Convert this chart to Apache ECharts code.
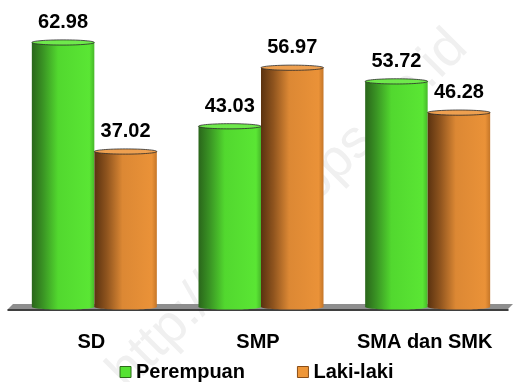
<!DOCTYPE html>
<html>
<head>
<meta charset="utf-8">
<script src="https://cdn.jsdelivr.net/npm/echarts@6/dist/echarts.min.js"></script>
<style>
  html, body { margin: 0; padding: 0; background: #fff; }
  #chart { width: 513px; height: 382px; }
</style>
</head>
<body>
<div id="chart"></div>
<script>
// Education level categories and share (%) by sex
const categories = ['SD', 'SMP', 'SMA dan SMK'];
const perempuan = [62.98, 43.03, 53.72];
const lakiLaki = [37.02, 56.97, 46.28];
const seriesNames = ['Perempuan', 'Laki-laki'];

const FONT = '"Liberation Sans", Arial, sans-serif';

// Shading for the cylinder bodies (dark left edge -> bright right side)
const palettes = {
  green: {
    flat: '#55e232',
    border: '#2c6a1a',
    body: [
      [0, '#2a661b'], [0.18, '#3a9424'], [0.42, '#52d82f'],
      [0.92, '#5ae634'], [1, '#47b82a']
    ],
    top: '#6fe94c'
  },
  orange: {
    flat: '#ee9638',
    border: '#8a4d16',
    body: [
      [0, '#5a3210'], [0.2, '#8f541e'], [0.45, '#dc8834'],
      [0.92, '#ea9238'], [1, '#c57628']
    ],
    top: '#eea050'
  }
};

function gradient(stops) {
  return new echarts.graphic.LinearGradient(0, 0, 1, 0,
    stops.map(s => ({ offset: s[0], color: s[1] })));
}

// Cylinder renderer: one bar per category, offset by series position
function cylinder(pal, slot) {
  return function (params, api) {
    const cat = api.value(0);
    const val = api.value(1);
    const top = api.coord([cat, val]);
    const base = api.coord([cat, 0]);
    const band = api.size([1, 0])[0];
    const w = band * 0.375;
    const x = top[0] - w + slot * w;
    const ry = 2.6;
    const fill = gradient(pal.body);
    return {
      type: 'group',
      children: [
        { type: 'rect', shape: { x: x, y: top[1], width: w, height: base[1] - top[1] },
          style: { fill: fill } },
        { type: 'ellipse', shape: { cx: x + w / 2, cy: base[1], rx: w / 2, ry: ry },
          style: { fill: fill } },
        { type: 'ellipse', shape: { cx: x + w / 2, cy: top[1], rx: w / 2, ry: ry },
          style: { fill: pal.top, stroke: '#2a2a2a', lineWidth: 0.8 } },
        { type: 'text', x: x + w / 2, y: top[1] - 20,
          style: { text: val.toFixed(2), fill: '#000', font: 'bold 20px ' + FONT,
                   align: 'center', verticalAlign: 'middle' } }
      ]
    };
  };
}

// Grey floor slab under the bars, skewed for a 3-D look
function floor(params, api) {
  const cs = params.coordSys;
  const baseY = cs.y + cs.height;
  const l = cs.x - 3, r = cs.x + cs.width - 3;
  return {
    type: 'group',
    children: [
      { type: 'polygon',
        shape: { points: [[l + 5, baseY - 3], [r + 5, baseY - 3], [r, baseY + 2], [l, baseY + 2]] },
        style: { fill: '#8e8e8e' } }
    ]
  };
}

const chart = echarts.init(document.getElementById('chart'), null, { renderer: 'canvas' });

chart.setOption({
  animation: false,
  backgroundColor: '#fff',
  graphic: [{
    type: 'text',
    x: 288, y: 210,
    rotation: Math.PI / 4,
    z: -10,
    style: {
      text: 'http://www.bps.go.id',
      font: '54px ' + FONT,
      fill: '#f0f0f0',
      align: 'center', verticalAlign: 'middle'
    }
  }],
  grid: [
    { left: 11, right: 2, top: 13, bottom: 75 },
    { left: 8, right: 5, top: 13, bottom: 72 }
  ],
  xAxis: [
    { type: 'category', gridIndex: 0, data: categories, show: false },
    { type: 'category', gridIndex: 1, data: categories,
      axisLine: { lineStyle: { color: '#000', width: 1.5 } },
      axisTick: { length: 7, lineStyle: { color: '#555' } },
      axisLabel: { interval: 0, margin: 22, color: '#000', fontFamily: FONT, fontWeight: 'bold', fontSize: 20 } }
  ],
  yAxis: [
    { type: 'value', gridIndex: 0, min: 0, max: 70, show: false },
    { type: 'value', gridIndex: 1, min: 0, max: 70, show: false }
  ],
  legend: {
    data: [
      { name: seriesNames[0], itemStyle: { color: palettes.green.flat, borderColor: palettes.green.border, borderWidth: 1 } },
      { name: seriesNames[1], itemStyle: { color: palettes.orange.flat, borderColor: palettes.orange.border, borderWidth: 1 } }
    ],
    left: 'center',
    top: 362,
    padding: 0,
    icon: 'rect',
    itemWidth: 11,
    itemHeight: 11,
    itemGap: 52,
    textStyle: { color: '#000', fontFamily: FONT, fontWeight: 'bold', fontSize: 20 }
  },
  series: [
    { type: 'custom', name: 'floor', xAxisIndex: 0, yAxisIndex: 0, z: 1,
      renderItem: floor, data: [[0, 0]], silent: true },
    { type: 'custom', name: seriesNames[0], xAxisIndex: 0, yAxisIndex: 0, z: 3,
      itemStyle: { color: palettes.green.flat },
      renderItem: cylinder(palettes.green, 0),
      encode: { x: 0, y: 1 },
      data: perempuan.map((v, i) => [i, v]) },
    { type: 'custom', name: seriesNames[1], xAxisIndex: 0, yAxisIndex: 0, z: 3,
      itemStyle: { color: palettes.orange.flat },
      renderItem: cylinder(palettes.orange, 1),
      encode: { x: 0, y: 1 },
      data: lakiLaki.map((v, i) => [i, v]) }
  ]
});
</script>
</body>
</html>
